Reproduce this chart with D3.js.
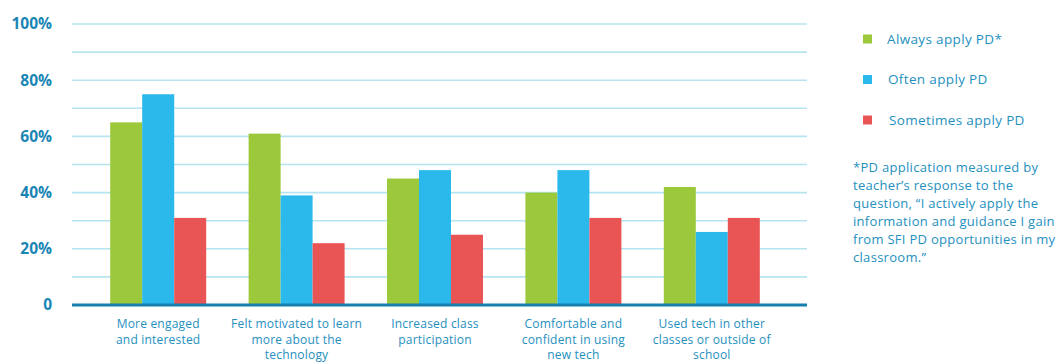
<!DOCTYPE html>
<html>
<head>
<meta charset="utf-8">
<script src="https://cdn.jsdelivr.net/npm/d3@7"></script>
<style>
  body { margin: 0; background: #fff; }
  svg { font-family: "Open Sans", Lato, sans-serif; }
</style>
</head>
<body>
<svg id="chart" width="1056" height="362"></svg>
<script>
// Values
var categories = [
    ["More engaged", "and interested"],
    ["Felt motivated to learn", "more about the", "technology"],
    ["Increased class", "participation"],
    ["Comfortable and", "confident in using", "new tech"],
    ["Used tech in other", "classes or outside of", "school"]
];
var seriesNames = ["Always apply PD*", "Often apply PD", "Sometimes apply PD"];
var alwaysValues = [65, 61, 45, 40, 42];
var oftenValues = [75, 39, 48, 48, 26];
var sometimesValues = [31, 22, 25, 31, 31];
var yTicks = [0, 20, 40, 60, 80, 100];
var minorTicks = [10, 30, 50, 70, 90];
var footnote = [
    "*PD application measured by",
    "teacher\u2019s response to the",
    "question, \u201cI actively apply the",
    "information and guidance I gain",
    "from SFI PD opportunities in my",
    "classroom.\u201d"
];

var colors = ["#9cc93b", "#2bb9ec", "#e95555"];
var textBlue = "#1a86b5";
var series = [alwaysValues, oftenValues, sometimesValues];

var svg = d3.select('#chart');
var plotLeft = 72, plotRight = 807;

var y = d3.scaleLinear()
    .domain([0, 100])
    .range([305, 24]);

var x = d3.scaleBand()
    .domain(d3.range(categories.length))
    .range([89, 781])
    .padding(0);

var xSub = d3.scaleBand()
    .domain(d3.range(series.length))
    .range([x.bandwidth() / 2 - 48, x.bandwidth() / 2 + 48]);

// grid lines
svg.append("g").selectAll("line.grid")
    .data(yTicks.concat(minorTicks).filter(function (d) { return d > 0; }))
    .enter()
  .append("line")
    .attr("x1", plotLeft)
    .attr("x2", plotRight)
    .attr("y1", function (d) { return y(d); })
    .attr("y2", function (d) { return y(d); })
    .style("stroke", "#b6e4f1")
    .style("stroke-width", 1.6);

// bars
var groups = svg.append("g").selectAll("g")
    .data(categories)
    .enter()
  .append("g")
    .attr("transform", function (d, i) { return "translate(" + x(i) + ",0)"; });

groups.selectAll("rect")
    .data(function (d, i) { return series.map(function (s, j) { return { s: j, v: s[i] }; }); })
    .enter()
  .append("rect")
    .attr("x", function (d) { return xSub(d.s); })
    .attr("width", xSub.bandwidth())
    .attr("y", function (d) { return y(d.v); })
    .attr("height", function (d) { return y(0) - y(d.v); })
    .attr("fill", function (d) { return colors[d.s]; });

// zero axis line
svg.append("line")
    .attr("x1", plotLeft)
    .attr("x2", plotRight)
    .attr("y1", y(0))
    .attr("y2", y(0))
    .style("stroke", "#167fae")
    .style("stroke-width", 3);

// y labels
var yAxis = d3.axisLeft(y)
    .tickValues(yTicks)
    .tickSize(0)
    .tickPadding(0)
    .tickFormat(function (d) { return d === 0 ? "0" : d + "%"; });

var yG = svg.append("g")
    .attr("transform", "translate(52,0)")
    .call(yAxis);
yG.select(".domain").remove();
yG.selectAll("text")
    .attr("fill", textBlue)
    .attr("font-size", 15.5)
    .attr("font-weight", "bold")
    .attr("font-family", "'Open Sans', sans-serif");

// category labels
groups.append("text")
    .attr("text-anchor", "middle")
    .attr("fill", "#2590c0")
    .attr("font-size", 12)
    .style("letter-spacing", "0.2px")
    .selectAll("tspan")
    .data(function (d) { return d; })
    .enter()
  .append("tspan")
    .attr("x", x.bandwidth() / 2)
    .attr("y", function (d, i) { return 328 + i * 15.5; })
    .text(function (d) { return d; });

// legend
var legend = svg.append("g").selectAll("g")
    .data(seriesNames)
    .enter()
  .append("g")
    .attr("transform", function (d, i) { return "translate(863," + (39 + i * 40.5) + ")"; });

legend.append("rect")
    .attr("x", 0)
    .attr("y", -4.5)
    .attr("width", 9)
    .attr("height", 9)
    .attr("fill", function (d, i) { return colors[i]; });

legend.append("text")
    .attr("x", function (d, i) { return 24 + i; })
    .attr("y", 4.5)
    .attr("fill", "#2590c0")
    .attr("font-size", 13.5)
    .style("letter-spacing", "0.35px")
    .text(function (d) { return d; });

// footnote
svg.append("text")
    .attr("fill", "#2590c0")
    .attr("font-size", 13)
    .style("letter-spacing", "0.3px")
    .selectAll("tspan")
    .data(footnote)
    .enter()
  .append("tspan")
    .attr("x", 853)
    .attr("y", function (d, i) { return 172 + i * 18; })
    .text(function (d) { return d; });
</script>
</body>
</html>
